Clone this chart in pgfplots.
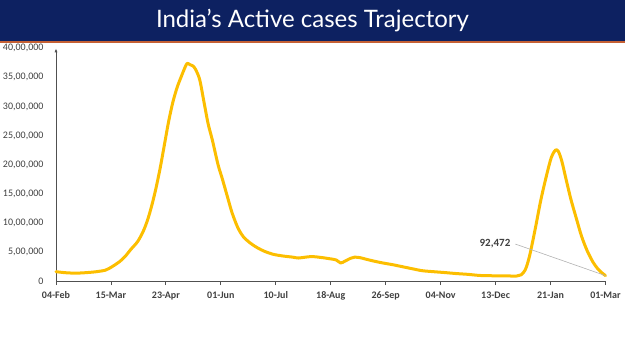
\documentclass[border=0pt]{standalone}
\usepackage{pgfplots}
\pgfplotsset{compat=1.18}
\usepackage{fontspec}
\setmainfont{Carlito}
\newfontfamily\titlefont{Lato}
\usetikzlibrary{arrows.meta}
\definecolor{navy}{RGB}{13,33,97}
\definecolor{accent}{RGB}{197,96,52}
\definecolor{gold}{RGB}{252,190,0}
\definecolor{txt}{RGB}{64,64,64}
\definecolor{axcol}{RGB}{80,80,80}
\begin{document}
\begin{tikzpicture}[x=1pt,y=1pt]
\path[use as bounding box] (0,0) rectangle (625,-351);
\fill[navy] (0,0) rectangle (625,-41);
\draw[accent, line width=1.5pt] (0,-42) -- (625,-42);
\node[text=white, font=\titlefont\fontsize{24}{28}\selectfont] at (312.5,-21) {India’s Active cases Trajectory};
\begin{axis}[
  at={(56pt,-281pt)}, anchor=south west,
  scale only axis, width=549.5pt, height=232.7pt,
  xmin=0, xmax=390, ymin=0, ymax=4000000,
  scaled y ticks=false,
  axis x line=bottom, axis y line=left,
  x axis line style={-, axcol, line width=0.8pt},
  y axis line style={-{Latex[length=4pt,width=3pt]}, axcol, line width=0.8pt},
  clip=false,
  xtick={0,39,...,390},
  xticklabels={04-Feb,15-Mar,23-Apr,01-Jun,10-Jul,18-Aug,26-Sep,04-Nov,13-Dec,21-Jan,01-Mar},
  ytick={0,500000,...,4000000},
  yticklabels={0,{5,00,000},{10,00,000},{15,00,000},{20,00,000},{25,00,000},{30,00,000},{35,00,000},{40,00,000}},
  x tick style={axcol, line width=0.8pt},
  tick align=outside, major tick length=4pt,
  y tick style={draw=none},
  x tick label style={font=\bfseries\fontsize{10}{12}\selectfont, text=txt, yshift=-3pt},
  y tick label style={font=\fontsize{10}{12}\selectfont, text=txt, xshift=-5pt},
  /pgf/number format/assume math mode=true,
]
\addplot[gold, line width=3pt, smooth, tension=0.5, line join=round, line cap=round] coordinates {
(0,160000) (7,142000) (14,135000) (21,143000) (28,158000) (35,185000) (38,220000)
(42,280000) (45,330000) (49,420000) (53,540000) (58,680000) (62,860000) (65,1050000)
(68,1300000) (71,1600000) (74,1950000) (77,2350000) (80,2750000) (83,3080000)
(86,3330000) (89,3520000) (91,3640000) (93,3740000) (95,3720000) (97,3700000)
(99,3640000) (102,3460000)
(105,3080000) (108,2700000) (111,2420000) (115,2000000) (118,1760000) (122,1420000)
(125,1170000) (129,920000) (133,760000) (138,650000) (143,570000) (148,510000)
(154,460000) (161,430000) (168,410000) (172,395000) (177,410000) (182,420000)
(188,405000) (195,380000) (199,360000) (202,310000) (205,340000) (209,390000)
(212,410000) (216,400000) (220,375000) (226,340000) (232,310000) (239,280000)
(246,245000) (253,210000) (260,177000) (268,160000) (277,143000) (284,128000)
(292,115000) (301,95000) (310,90000) (318,88000) (327,86000) (330,105000)
(333,190000) (336,420000) (340,880000) (344,1380000) (348,1800000) (351.5,2120000)
(354.5,2250000) (356.5,2230000) (359,2060000) (362,1750000) (365.5,1400000)
(369.5,1060000) (373,770000) (377,520000) (381,330000) (384.5,210000)
(387.5,140000) (390,92472)
};
\draw[gray!60, line width=0.6pt] (axis cs:326,635000) -- (axis cs:390,92472);
\node[font=\bfseries\fontsize{11}{13}\selectfont, text=txt, anchor=east] at (axis cs:325,650000) {92,472};
\end{axis}
\end{tikzpicture}
\end{document}
